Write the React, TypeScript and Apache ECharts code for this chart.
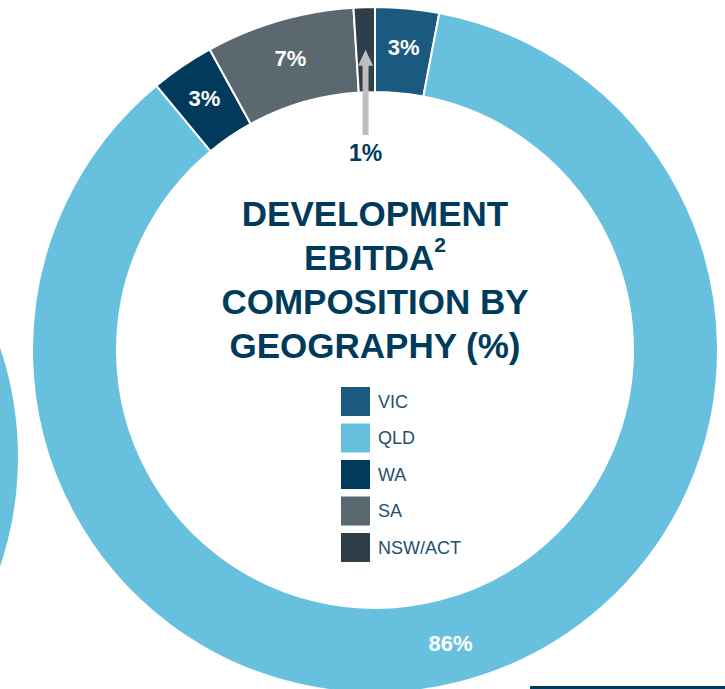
import React, { useEffect, useRef } from "react";
import * as echarts from "echarts";

const categories = ["VIC", "QLD", "WA", "SA", "NSW/ACT"];
const values = [3, 86, 3, 7, 1];
const colors = ["#1b5a80", "#67c1de", "#013a5c", "#5b6870", "#2f3f4a"];
const titleLines = ["DEVELOPMENT", "EBITDA", "COMPOSITION BY", "GEOGRAPHY (%)"];
const superscript = "2";
const calloutCategory = "NSW/ACT";

const FONT = "'Liberation Sans', Arial, Helvetica, sans-serif";
const NAVY = "#003b5c";

export default function App() {
  const ref = useRef<HTMLDivElement>(null);

  useEffect(() => {
    if (!ref.current) return;
    const chart = echarts.init(ref.current, null, { renderer: "svg" });

    const cx = 375;
    const cy = 350;
    const rIn = 258;
    const rOut = 343;
    const rMid = (rIn + rOut) / 2;

    // compute callout (arrow) position from the data
    const total = values.reduce((a, b) => a + b, 0);
    const idx = categories.indexOf(calloutCategory);
    const before = values.slice(0, idx).reduce((a, b) => a + b, 0);
    const midFrac = (before + values[idx] / 2) / total;
    const ang = midFrac * Math.PI * 2; // clockwise from top
    const ax = cx + Math.sin(ang) * rMid;
    const tipY = cy - Math.cos(ang) * rMid;
    const shaftBottom = cy - Math.cos(ang) * 215;
    const labelY = cy - Math.cos(ang) * 197;

    const data = categories.map((name, i) => ({
      name,
      value: values[i],
      itemStyle: { color: colors[i] },
      label: { show: name !== calloutCategory },
    }));

    chart.setOption({
      animation: false,
      legend: {
        orient: "vertical",
        left: 339,
        top: 385,
        padding: 0,
        itemWidth: 31,
        itemHeight: 31,
        itemGap: 3.5,
        icon: "rect",
        selectedMode: false,
        data: categories,
        textStyle: { fontFamily: FONT, fontSize: 18, color: "#24506f", padding: [0, 0, 0, 2] },
      },
      series: [
        {
          type: "pie",
          center: [cx, cy],
          radius: [rIn, rOut],
          startAngle: 90,
          clockwise: true,
          silent: true,
          itemStyle: { borderColor: "#ffffff", borderWidth: 2 },
          label: {
            show: true,
            position: "inside",
            formatter: "{c}%",
            color: "#ffffff",
            fontFamily: FONT,
            fontWeight: "bold",
            fontSize: 22,
          },
          labelLine: { show: false },
          data,
        },
        {
          type: "pie",
          center: [-325, 457],
          radius: [rIn, rOut],
          silent: true,
          label: { show: false },
          labelLine: { show: false },
          data: [{ name: "", value: 1, itemStyle: { color: colors[1] } }],
        },
      ],
      graphic: [
        ...titleLines.map((t, i) => ({
          type: "text",
          z: 100,
          x: cx,
          y: 213 + i * 44,
          style: {
            text: i === 1 ? "{a|" + t + "}{s|" + superscript + "}" : t,
            fontFamily: FONT,
            fontWeight: "bold",
            fontSize: 35,
            fill: NAVY,
            align: "center",
            verticalAlign: "middle",
            rich: {
              a: { fontFamily: FONT, fontWeight: "bold", fontSize: 35, fill: NAVY },
              s: {
                fontFamily: FONT,
                fontWeight: "bold",
                fontSize: 21,
                fill: NAVY,
                verticalAlign: "top",
                padding: [-6, 0, 0, 0],
              },
            },
          },
        })),
        {
          type: "line",
          z: 100,
          shape: { x1: ax, y1: shaftBottom, x2: ax, y2: tipY + 15 },
          style: { stroke: "#bfbfbf", lineWidth: 6 },
        },
        {
          type: "polygon",
          z: 100,
          shape: {
            points: [
              [ax - 7.5, tipY + 16],
              [ax + 7.5, tipY + 16],
              [ax, tipY],
            ],
          },
          style: { fill: "#bfbfbf" },
        },
        {
          type: "text",
          z: 100,
          x: ax,
          y: labelY,
          style: {
            text: values[idx] + "%",
            fontFamily: FONT,
            fontWeight: "bold",
            fontSize: 23,
            fill: NAVY,
            align: "center",
            verticalAlign: "middle",
          },
        },
        {
          type: "rect",
          z: 100,
          shape: { x: 530, y: 686, width: 195, height: 3 },
          style: { fill: NAVY },
        },
      ],
    });

    return () => chart.dispose();
  }, []);

  return (
    <div
      ref={ref}
      style={{ position: "fixed", left: 0, top: 0, width: 725, height: 689, background: "#ffffff" }}
    />
  );
}
